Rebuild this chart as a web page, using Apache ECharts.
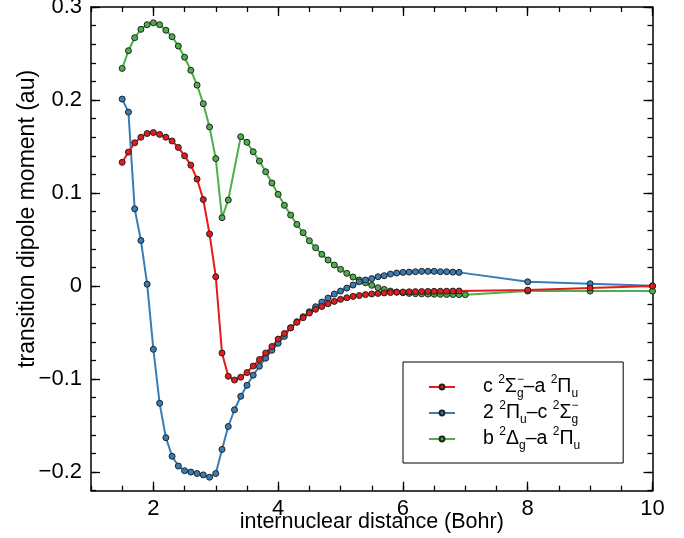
<!DOCTYPE html>
<html>
<head>
<meta charset="utf-8">
<script src="https://cdn.jsdelivr.net/npm/echarts@6/dist/echarts.min.js"></script>
<style>
html,body{margin:0;padding:0;background:#fff;}
#chart{width:684px;height:538px;}
</style>
</head>
<body>
<div id="chart"></div>
<script>
// ---- data ----
var xRB = [1.5,1.6,1.7,1.8,1.9,2.0,2.1,2.2,2.3,2.4,2.5,2.6,2.7,2.8,2.9,3.0,3.1,3.2,3.3,3.4,3.5,3.6,3.7,3.8,3.9,4.0,4.1,4.2,4.3,4.4,4.5,4.6,4.7,4.8,4.9,5.0,5.1,5.2,5.3,5.4,5.5,5.6,5.7,5.8,5.9,6.0,6.1,6.2,6.3,6.4,6.5,6.6,6.7,6.8,6.9,8,9,10];
var redY = [0.133,0.144,0.154,0.160,0.164,0.165,0.163,0.160,0.156,0.149,0.140,0.130,0.115,0.093,0.056,0.010,-0.072,-0.097,-0.101,-0.098,-0.093,-0.086,-0.079,-0.072,-0.065,-0.057,-0.051,-0.045,-0.039,-0.034,-0.029,-0.025,-0.022,-0.019,-0.0165,-0.0143,-0.0126,-0.0111,-0.0102,-0.0092,-0.0085,-0.0079,-0.0074,-0.0070,-0.0067,-0.0064,-0.0062,-0.0060,-0.0059,-0.0058,-0.0057,-0.0056,-0.0055,-0.0054,-0.0053,-0.0043,-0.0022,0.0];
var blueY = [0.201,0.187,0.083,0.049,0.002,-0.068,-0.126,-0.163,-0.183,-0.1935,-0.1985,-0.200,-0.2015,-0.203,-0.2055,-0.2015,-0.1756,-0.151,-0.133,-0.1185,-0.1067,-0.0958,-0.0862,-0.0776,-0.069,-0.0615,-0.0541,-0.0448,-0.0384,-0.033,-0.0276,-0.0222,-0.0172,-0.0129,-0.0086,-0.0054,-0.0022,0.0011,0.0046,0.0065,0.0080,0.0100,0.0111,0.0129,0.0140,0.0147,0.0150,0.0154,0.0158,0.0158,0.0158,0.0154,0.0154,0.0150,0.0147,0.0046,0.0025,0.0003];
var xG = [1.5,1.6,1.7,1.8,1.9,2.0,2.1,2.2,2.3,2.4,2.5,2.6,2.7,2.8,2.9,3.0,3.1,3.2,3.4,3.5,3.6,3.7,3.8,3.9,4.0,4.1,4.2,4.3,4.4,4.5,4.6,4.7,4.8,4.9,5.0,5.1,5.2,5.3,5.4,5.5,5.6,5.7,5.8,5.9,6.0,6.1,6.2,6.3,6.4,6.5,6.6,6.7,6.8,6.9,7.0,8,9,10];
var greenY = [0.234,0.253,0.267,0.276,0.281,0.283,0.281,0.275,0.268,0.258,0.246,0.232,0.216,0.196,0.171,0.137,0.0735,0.0925,0.1605,0.1545,0.1444,0.1344,0.1229,0.1108,0.0986,0.0868,0.0763,0.0663,0.0573,0.0487,0.0412,0.0341,0.0280,0.0226,0.0180,0.0137,0.0097,0.0065,0.0035,0.0008,-0.0018,-0.0036,-0.0054,-0.0064,-0.0072,-0.0079,-0.0082,-0.0084,-0.0086,-0.0088,-0.0089,-0.0090,-0.0091,-0.0092,-0.0093,-0.0054,-0.0054,-0.0054];
var xMajor = [2,4,6,8,10];
var yMajor = [-0.2,-0.1,0,0.1,0.2,0.3];
var names = ['c ²Σg⁻–a ²Πu', '2 ²Πu–c ²Σg⁻', 'b ²Δg–a ²Πu'];
var richNames = [
  '{gap| }c {sup|2}Σ{supz|−}{sub|g}–a {sup|2}Π{sub|u}',
  '{gap| }2 {sup|2}Π{sub|u}–c {sup|2}Σ{supz|−}{sub|g}',
  '{gap| }b {sup|2}Δ{sub|g}–a {sup|2}Π{sub|u}'
];
var colors = ['#e41a1c', '#377eb8', '#4daf4a'];

function pairs(xs, ys){ return xs.map(function(x,i){ return [x, ys[i]]; }); }

var FONT = 'Liberation Sans';
var black = '#000';

function xAx(pos, major, withLabel){
  return {
    type:'value', min:1, max:10, interval:0.5, position:pos,
    axisLine:{show:!major, onZero:false, lineStyle:{color:black, width:1.5}},
    axisTick:{show:true, inside:true, length: major?9:5, lineStyle:{color:black,width:1.3}, customValues: major?xMajor:undefined},
    axisLabel:{show:!!withLabel, customValues:xMajor, color:black, fontSize:22, fontFamily:FONT, margin:7},
    splitLine:{show:false},
    name: withLabel ? 'internuclear distance (Bohr)' : '',
    nameLocation:'middle', nameGap:20, nameMoveOverlap:false,
    nameTextStyle:{color:black, fontSize:21.5, fontFamily:FONT}
  };
}
function yAx(pos, major, withLabel){
  return {
    type:'value', min:-0.22, max:0.3, interval:0.02, position:pos,
    axisLine:{show:!major, onZero:false, lineStyle:{color:black, width:1.5}},
    axisTick:{show:true, inside:true, length: major?9:5, lineStyle:{color:black,width:1.3}, customValues: major?yMajor:undefined},
    axisLabel:{show:!!withLabel, customValues:yMajor, color:black, fontSize:22, fontFamily:FONT, margin:9,
      formatter:function(v){ if (Math.abs(v) < 1e-9) return '0'; return (v<0?'−':'') + Math.abs(v).toFixed(1); }},
    splitLine:{show:false},
    name: withLabel ? 'transition dipole moment (au)' : '',
    nameLocation:'middle', nameGap:52, nameMoveOverlap:false,
    nameTextStyle:{color:black, fontSize:23, fontFamily:FONT, padding:[0,0,0,60]}
  };
}

var chart = echarts.init(document.getElementById('chart'), null, {renderer:'canvas'});
var seriesOrder = [2,1,0];
chart.setOption({
  animation:false,
  backgroundColor:'#fff',
  textStyle:{fontFamily:FONT},
  grid:{left:91, right:31.5, top:7, bottom:47.3, outerBoundsMode:'none'},
  xAxis:[xAx('bottom',false,true), xAx('bottom',true,false), xAx('top',false,false), xAx('top',true,false)],
  yAxis:[yAx('left',false,true), yAx('left',true,false), yAx('right',false,false), yAx('right',true,false)],
  legend:{
    show:true, orient:'vertical', left:403, top:362,
    data:names, selectedMode:false,
    itemWidth:26, itemHeight:6, itemGap:0,
    padding:[12,43,11,25],
    borderColor:black, borderWidth:1, backgroundColor:'#fff',
    formatter:function(n){ return richNames[names.indexOf(n)]; },
    textStyle:{
      color:black, fontSize:19.5, fontFamily:FONT, lineHeight:26,
      rich:{
        gap:{width:23, fontSize:19.5, lineHeight:26},
        sup:{fontSize:12, lineHeight:14, verticalAlign:'top', fontFamily:FONT},
        supz:{fontSize:12, lineHeight:14, verticalAlign:'top', width:0, fontFamily:FONT},
        sub:{fontSize:12, lineHeight:12, verticalAlign:'bottom', fontFamily:FONT}
      }
    }
  },
  series: seriesOrder.map(function(k){
    var xs = (k===2)? xG : xRB;
    var ys = [redY, blueY, greenY][k];
    return {
      type:'line', name:names[k], xAxisIndex:0, yAxisIndex:0,
      data:pairs(xs, ys),
      symbol:'circle', symbolSize:6, showSymbol:true,
      lineStyle:{color:colors[k], width:2},
      itemStyle:{color:colors[k], borderColor:'#222', borderWidth:1},
      emphasis:{disabled:true}
    };
  })
});
</script>
</body>
</html>
